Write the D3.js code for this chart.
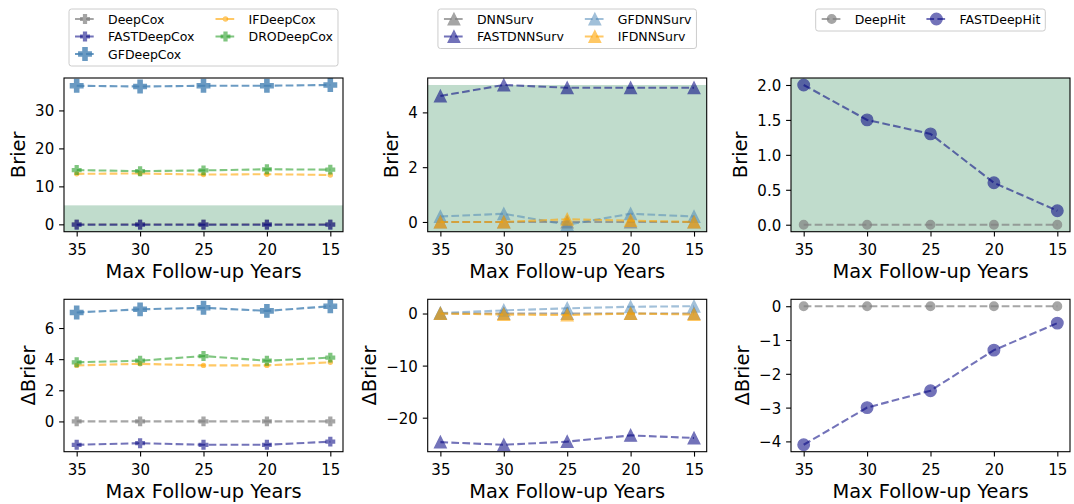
<!DOCTYPE html>
<html><head><meta charset="utf-8">
<script src="https://cdn.jsdelivr.net/npm/d3@7"></script>
<style>
body{margin:0;background:#fff}
svg{display:block}
text{font-family:"DejaVu Sans",sans-serif;fill:#000}
</style>
</head><body>
<svg id="c" width="1074" height="504"></svg>
<script>
// ---------------- data ----------------
const years = [35, 30, 25, 20, 15];
const xTicks = [35, 30, 25, 20, 15];

// Brier (top row)
const deepCoxBrier     = [0, 0, 0, 0, 0];
const fastDeepCoxBrier = [-0.1, -0.1, -0.1, -0.1, -0.1];
const gfDeepCoxBrier   = [36.5, 36.3, 36.5, 36.5, 36.7];
const ifDeepCoxBrier   = [13.3, 13.4, 13.1, 13.2, 13.0];
const droDeepCoxBrier  = [14.3, 14.0, 14.2, 14.5, 14.4];

const dnnSurvBrier     = [0, 0, 0, 0, 0];
const fastDnnSurvBrier = [4.6, 5.0, 4.9, 4.9, 4.9];
const gfDnnSurvBrier   = [0.2, 0.3, -0.1, 0.3, 0.2];
const ifDnnSurvBrier   = [0, 0, 0.1, 0.05, 0];

const deepHitBrier     = [0, 0, 0, 0, 0];
const fastDeepHitBrier = [2.0, 1.5, 1.3, 0.6, 0.2];

// ΔBrier (bottom row)
const deepCoxDelta     = [0, 0, 0, 0, 0];
const fastDeepCoxDelta = [-1.5, -1.4, -1.5, -1.5, -1.3];
const gfDeepCoxDelta   = [7.0, 7.2, 7.3, 7.1, 7.4];
const ifDeepCoxDelta   = [3.6, 3.7, 3.6, 3.6, 3.8];
const droDeepCoxDelta  = [3.8, 3.9, 4.2, 3.9, 4.1];

const dnnSurvDelta     = [0, 0, 0, 0, 0];
const fastDnnSurvDelta = [-24.7, -25.2, -24.6, -23.4, -23.9];
const gfDnnSurvDelta   = [0.1, 0.6, 1.0, 1.3, 1.4];
const ifDnnSurvDelta   = [0, -0.2, -0.3, 0, -0.2];

const deepHitDelta     = [0, 0, 0, 0, 0];
const fastDeepHitDelta = [-4.1, -3.0, -2.5, -1.3, -0.5];

// tick values
const brierCoxTicks  = [0, 10, 20, 30];
const brierDnnTicks  = [0, 2, 4];
const brierHitTicks  = [0.0, 0.5, 1.0, 1.5, 2.0];
const deltaCoxTicks  = [0, 2, 4, 6];
const deltaDnnTicks  = [-20, -10, 0];
const deltaHitTicks  = [-4, -3, -2, -1, 0];

const coxNames = ["DeepCox", "FASTDeepCox", "GFDeepCox", "IFDeepCox", "DRODeepCox"];
const dnnNames = ["DNNSurv", "FASTDNNSurv", "GFDNNSurv", "IFDNNSurv"];
const hitNames = ["DeepHit", "FASTDeepHit"];
const bandThreshold = 5;

// ---------------- styles ----------------
const S = {
  base: {color: "#808080", op: 0.7},
  fast: {color: "#000080", op: 0.55},
  gf:   {color: "#4682b4", op: 0.8},
  gfl:  {color: "#4682b4", op: 0.5},
  ifc:  {color: "#ffa500", op: 0.6},
  dro:  {color: "#2ca02c", op: 0.6}
};

function plusPath(s){const h=s/2,t=s/6;return `M${-t},${-h}L${t},${-h}L${t},${-t}L${h},${-t}L${h},${t}L${t},${t}L${t},${h}L${-t},${h}L${-t},${t}L${-h},${t}L${-h},${-t}L${-t},${-t}Z`;}
function triPath(s){const h=s/2;return `M0,${-h}L${h},${h}L${-h},${h}Z`;}
function circPath(s){const r=s/2;return `M${-r},0A${r},${r} 0 1,0 ${r},0A${r},${r} 0 1,0 ${-r},0Z`;}
const markers = {P: plusPath, "^": triPath, o: circPath};

function coxSeries(vals){
  return [
    {name: coxNames[0], v: vals[0], st: S.base, m: "P", s: 8.5},
    {name: coxNames[1], v: vals[1], st: S.fast, m: "P", s: 8.5},
    {name: coxNames[2], v: vals[2], st: S.gf,   m: "P", s: 12.5},
    {name: coxNames[3], v: vals[3], st: S.ifc,  m: "o", s: 4},
    {name: coxNames[4], v: vals[4], st: S.dro,  m: "P", s: 8.5}
  ];
}
function dnnSeries(vals){
  return [
    {name: dnnNames[0], v: vals[0], st: S.base, m: "^", s: 11.5},
    {name: dnnNames[1], v: vals[1], st: S.fast, m: "^", s: 11.5},
    {name: dnnNames[2], v: vals[2], st: S.gfl,  m: "^", s: 11.5},
    {name: dnnNames[3], v: vals[3], st: S.ifc,  m: "^", s: 11.5}
  ];
}
function hitSeries(vals){
  return [
    {name: hitNames[0], v: vals[0], st: S.base, m: "o", s: 8.5},
    {name: hitNames[1], v: vals[1], st: S.fast, m: "o", s: 11.5}
  ];
}

const intFmt = d => d3.format("d")(d).replace("-", "\u2212");
const oneFmt = d => d3.format(".1f")(d).replace("-", "\u2212");

const cols = [[64, 343], [427.7, 706.7], [791, 1070]];
const rows = [[78, 231.7], [299.3, 451.7]];

const panels = [
  {c:0, r:0, series: coxSeries([deepCoxBrier, fastDeepCoxBrier, gfDeepCoxBrier, ifDeepCoxBrier, droDeepCoxBrier]), ticks: brierCoxTicks, fmt: intFmt, label: "Brier", band: true},
  {c:1, r:0, series: dnnSeries([dnnSurvBrier, fastDnnSurvBrier, gfDnnSurvBrier, ifDnnSurvBrier]), ticks: brierDnnTicks, fmt: intFmt, label: "Brier", band: true},
  {c:2, r:0, series: hitSeries([deepHitBrier, fastDeepHitBrier]), ticks: brierHitTicks, fmt: oneFmt, label: "Brier", band: true},
  {c:0, r:1, series: coxSeries([deepCoxDelta, fastDeepCoxDelta, gfDeepCoxDelta, ifDeepCoxDelta, droDeepCoxDelta]), ticks: deltaCoxTicks, fmt: intFmt, label: "\u0394Brier", band: false},
  {c:1, r:1, series: dnnSeries([dnnSurvDelta, fastDnnSurvDelta, gfDnnSurvDelta, ifDnnSurvDelta]), ticks: deltaDnnTicks, fmt: intFmt, label: "\u0394Brier", band: false},
  {c:2, r:1, series: hitSeries([deepHitDelta, fastDeepHitDelta]), ticks: deltaHitTicks, fmt: intFmt, label: "\u0394Brier", band: false}
];

const svg = d3.select("#c");
const defs = svg.append("defs");
const LW = 2.1, DASH = "7.7,3.3", MEW = 1.4;

function drawMarker(g, st, m, s, x, y){
  g.append("path").attr("d", markers[m](s))
    .attr("transform", `translate(${x},${y})`)
    .attr("fill", st.color).attr("stroke", st.color).attr("stroke-width", MEW)
    .attr("stroke-linejoin", "miter").attr("opacity", st.op);
}

panels.forEach((p, i) => {
  const [x0, x1] = cols[p.c], [y0, y1] = rows[p.r];
  const all = p.series.flatMap(s => s.v);
  const mn = d3.min(all), mx = d3.max(all), R = mx - mn;
  const x = d3.scaleLinear().domain([36, 14]).range([x0, x1]);
  const y = d3.scaleLinear().domain([mn - 0.05*R, mx + 0.05*R]).range([y1, y0]);
  const g = svg.append("g");

  defs.append("clipPath").attr("id", "clip" + i)
    .append("rect").attr("x", x0).attr("y", y0).attr("width", x1 - x0).attr("height", y1 - y0);
  const plot = g.append("g").attr("clip-path", `url(#clip${i})`);

  if (p.band) {
    const top = Math.max(y0, y(bandThreshold));
    plot.append("rect").attr("x", x0).attr("y", top).attr("width", x1 - x0).attr("height", y1 - top)
      .attr("fill", "#2e8b57").attr("opacity", 0.3);
  }

  const line = d3.line().x((d, k) => x(years[k])).y(d => y(d));
  p.series.forEach(s => {
    plot.append("path").attr("d", line(s.v)).attr("fill", "none")
      .attr("stroke", s.st.color).attr("stroke-width", LW).attr("stroke-dasharray", DASH)
      .attr("opacity", s.st.op);
    s.v.forEach((d, k) => drawMarker(plot, s.st, s.m, s.s, x(years[k]), y(d)));
  });

  // axes
  const xa = g.append("g").attr("transform", `translate(0,${y1})`)
    .call(d3.axisBottom(x).tickValues(xTicks).tickSize(4.9).tickPadding(8).tickFormat(d3.format("d")));
  const ya = g.append("g").attr("transform", `translate(${x0},0)`)
    .call(d3.axisLeft(y).tickValues(p.ticks).tickSize(4.9).tickPadding(4.9).tickFormat(p.fmt));
  [xa, ya].forEach(a => {
    a.select(".domain").remove();
    a.selectAll(".tick line").attr("stroke", "#000").attr("stroke-width", 1.1);
    a.selectAll(".tick text").attr("font-size", 15).attr("font-family", "DejaVu Sans").attr("fill", "#000");
  });
  ya.selectAll(".tick text").attr("dy", "0.36em");

  g.append("rect").attr("x", x0).attr("y", y0).attr("width", x1 - x0).attr("height", y1 - y0)
    .attr("fill", "none").attr("stroke", "#000").attr("stroke-width", 1.1);

  // labels
  let minLeft = x0;
  ya.selectAll(".tick text").each(function(){ const b = this.getBBox(); minLeft = Math.min(minLeft, x0 + b.x); });
  g.append("text").attr("transform", `translate(${minLeft - 10},${(y0 + y1)/2}) rotate(-90)`)
    .attr("text-anchor", "middle").attr("font-size", 19.4).text(p.label);
  g.append("text").attr("x", (x0 + x1)/2).attr("y", y1 + 46)
    .attr("text-anchor", "middle").attr("font-size", 19.4).text("Max Follow-up Years");

  // legend (top row only)
  if (p.r === 0) {
    const lg = svg.append("g");
    const ncol = 2, nrow = Math.ceil(p.series.length / ncol);
    const box = lg.append("rect");
    const items = lg.append("g");
    const rowH = 17.5, fs = 12.5;
    const widths = p.series.map(s => {
      const t = items.append("text").attr("font-size", fs).text(s.name);
      const w = t.node().getComputedTextLength(); t.remove(); return w;
    });
    const colIdx = (k) => Math.floor(k / nrow);
    const col1W = d3.max(p.series.map((s, k) => colIdx(k) === 0 ? widths[k] : 0));
    const col2W = d3.max(p.series.map((s, k) => colIdx(k) === 1 ? widths[k] : 0));
    const handleX = [6, 6 + 20 + 13 + col1W + 21];
    const boxW = handleX[1] + 20 + 13 + col2W + 5;
    const boxH = rowH * nrow + 4.5;
    const lx = (x0 + x1)/2 - boxW/2, ly = 9;
    box.attr("x", lx).attr("y", ly).attr("width", boxW).attr("height", boxH).attr("rx", 2.5)
      .attr("fill", "#fff").attr("stroke", "#cccccc").attr("stroke-width", 1);
    p.series.forEach((s, k) => {
      const cx = lx + handleX[colIdx(k)], cy = ly + 10 + rowH * (k % nrow);
      items.append("line").attr("x1", cx).attr("x2", cx + 20).attr("y1", cy).attr("y2", cy)
        .attr("stroke", s.st.color).attr("stroke-width", LW).attr("stroke-dasharray", DASH).attr("opacity", s.st.op);
      drawMarker(items, s.st, s.m, s.s, cx + 10, cy);
      items.append("text").attr("x", cx + 33).attr("y", cy).attr("dy", "0.36em")
        .attr("font-size", fs).text(s.name);
    });
  }
});
</script>
</body></html>
